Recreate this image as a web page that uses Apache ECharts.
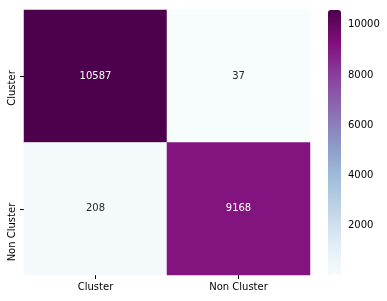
<!DOCTYPE html>
<html><head><meta charset="utf-8">
<script src="https://cdn.jsdelivr.net/npm/echarts@6/dist/echarts.min.js"></script>
<style>html,body{margin:0;padding:0;background:#fff}#c{width:387px;height:301px}</style>
</head><body><div id="c"></div>
<script>
const colLabels = ['Cluster', 'Non Cluster'];
const rowLabels = ['Cluster', 'Non Cluster'];
const row0 = [10587, 37];
const row1 = [208, 9168];
const cbarTicks = [2000, 4000, 6000, 8000, 10000];
const vmin = 37, vmax = 10587;
const bupu = ['#f7fcfd','#e0ecf4','#bfd3e6','#9ebcda','#8c96c6','#8c6bb1','#88419d','#810f7c','#4d004b'];

const FONT = 'DejaVu Sans';
const rows = [row0, row1];
const data = [];
rows.forEach((r, yi) => r.forEach((v, xi) => {
  const frac = (v - vmin) / (vmax - vmin);
  data.push({ value: [xi, yi, v], label: { color: frac > 0.5 ? '#ffffff' : '#262626' } });
}));

const cv = document.createElement('canvas').getContext('2d');
cv.font = '10px ' + FONT;
const rich = {};
rowLabels.forEach((t, i) => {
  const L = cv.measureText(t).width;
  rich['r' + i] = { fontFamily: FONT, fontSize: 10, color: '#000', padding: [0, Math.max(0, L - 12), 0, 0] };
});

const chart = echarts.init(document.getElementById('c'), null, { renderer: 'canvas' });
chart.setOption({
  animation: false,
  backgroundColor: '#fff',
  textStyle: { fontFamily: FONT },
  grid: [
    { left: 24, top: 10, width: 286, height: 265 },
    { left: 328, top: 10, width: 13, height: 265 }
  ],
  xAxis: [
    { gridIndex: 0, type: 'category', data: colLabels, position: 'bottom',
      axisLine: { show: false }, splitLine: { show: false },
      axisTick: { show: true, alignWithLabel: true, length: 4, lineStyle: { color: '#000', width: 1 } },
      axisLabel: { fontFamily: FONT, fontSize: 10, color: '#000', margin: 7, interval: 0 } },
    { gridIndex: 1, type: 'value', show: false, min: 0, max: 1 }
  ],
  yAxis: [
    { gridIndex: 0, type: 'category', data: rowLabels, inverse: true,
      axisLine: { show: false }, splitLine: { show: false },
      axisTick: { show: true, alignWithLabel: true, interval: 0, length: 4, lineStyle: { color: '#000', width: 1 } },
      axisLabel: { rotate: 90, interval: 0, hideOverlap: false, align: 'center', verticalAlign: 'bottom', margin: 7,
        formatter: (v, i) => '{r' + i + '|' + v + '}', rich: rich } },
    { gridIndex: 1, type: 'value', position: 'right', min: vmin, max: vmax,
      axisLine: { show: false }, splitLine: { show: false },
      axisTick: { show: true, length: 4, customValues: cbarTicks, lineStyle: { color: '#000', width: 1 } },
      axisLabel: { fontFamily: FONT, fontSize: 10, color: '#000', margin: 7, customValues: cbarTicks,
        formatter: v => String(Math.round(v)) } }
  ],
  visualMap: {
    type: 'continuous', min: vmin, max: vmax, calculable: false, orient: 'vertical',
    left: 328, top: 10, itemWidth: 13, itemHeight: 265, padding: 0,
    inRange: { color: bupu }, seriesIndex: 0, hoverLink: false,
    textStyle: { fontSize: 0 }
  },
  series: [{
    type: 'heatmap', xAxisIndex: 0, yAxisIndex: 0, data: data,
    label: { show: true, fontFamily: FONT, fontSize: 10 },
    itemStyle: { borderWidth: 0 }
  }]
});
</script></body></html>
